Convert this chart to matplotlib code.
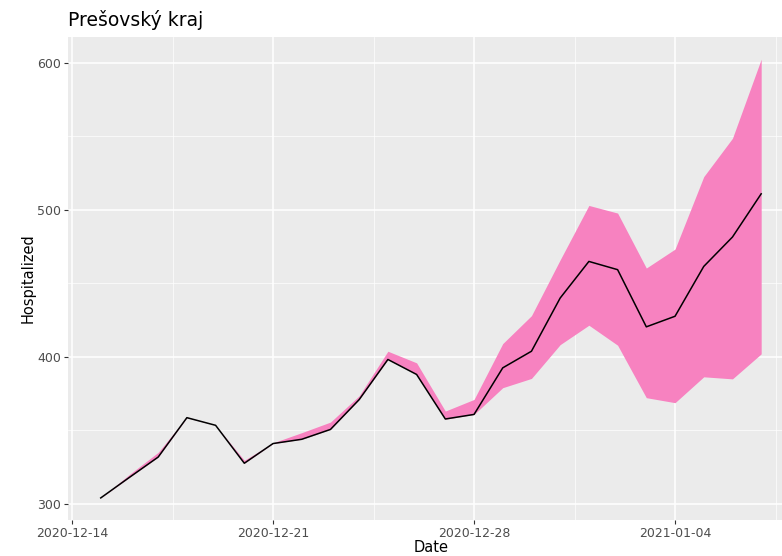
import matplotlib
matplotlib.use("Agg")
import matplotlib.pyplot as plt
import matplotlib.dates as mdates
import pandas as pd

# daily values, 2020-12-15 .. 2021-01-07
dates = pd.date_range("2020-12-15", periods=24, freq="D")
hosp = [304, 318, 331.8, 358.6, 353.4, 327.6, 341, 343.9, 350.6, 370.9, 398.2, 388,
        357.7, 360.8, 392.5, 403.8, 440, 464.9, 459.3, 420.4, 427.6, 461.5, 481.5, 510.9]
upper = [304, 320, 335, 359, 353.4, 329.6, 341.5, 348.4, 355.6, 373.5, 403.8, 395.9,
         363.1, 371, 409, 428, 466, 503, 497.8, 460.4, 473.3, 522.6, 548.7, 602.5]
lower = [304, 318, 331.8, 358.6, 353.4, 327.6, 341, 343.9, 350.6, 370.9, 398.2, 388,
         357.5, 360.8, 379, 385.3, 408.3, 421.5, 407.9, 372.2, 368.8, 386.4, 385, 402]

xticks = pd.to_datetime(["2020-12-14", "2020-12-21", "2020-12-28", "2021-01-04"])
xlabels = ["2020-12-14", "2020-12-21", "2020-12-28", "2021-01-04"]
yticks = [300, 400, 500, 600]

fig = plt.figure(figsize=(7.82, 5.56), dpi=100)
ax = fig.add_axes([0.0866, 0.065, 0.929, 0.868])
ax.set_facecolor("#EBEBEB")

ax.fill_between(dates, lower, upper, color="#F782C0", linewidth=0, zorder=2)
ax.plot(dates, hosp, color="black", linewidth=1.1, zorder=3)

# ggplot-like expansion
span = dates[-1] - dates[0]
ax.set_xlim(dates[0] - span * 0.05, dates[-1] + span * 0.05)
lo, hi = min(lower), max(upper)
ax.set_ylim(lo - (hi - lo) * 0.05, hi + (hi - lo) * 0.05)

ax.set_xticks(xticks)
ax.set_xticklabels(xlabels)
ax.set_xticks(list(xticks + pd.Timedelta(hours=84)), minor=True)
ax.set_yticks(yticks)
ax.set_yticks([350, 450, 550], minor=True)

ax.grid(which="major", color="white", linewidth=1.1, zorder=0)
ax.grid(which="minor", color="white", linewidth=0.5, zorder=0)
ax.set_axisbelow(True)
for s in ax.spines.values():
    s.set_visible(False)

ax.tick_params(which="major", length=3, width=0.8, color="#333333",
               labelcolor="#4D4D4D", labelsize=9, pad=2)
ax.tick_params(which="minor", length=0)

ax.set_xlabel("Date", fontsize=10.5, color="black", labelpad=0)
ax.set_ylabel("Hospitalized", fontsize=10.5, color="black", labelpad=1)
ax.set_title("Prešovský kraj", fontsize=13.5, loc="left", pad=8)

fig.savefig("out.png", dpi=100)
